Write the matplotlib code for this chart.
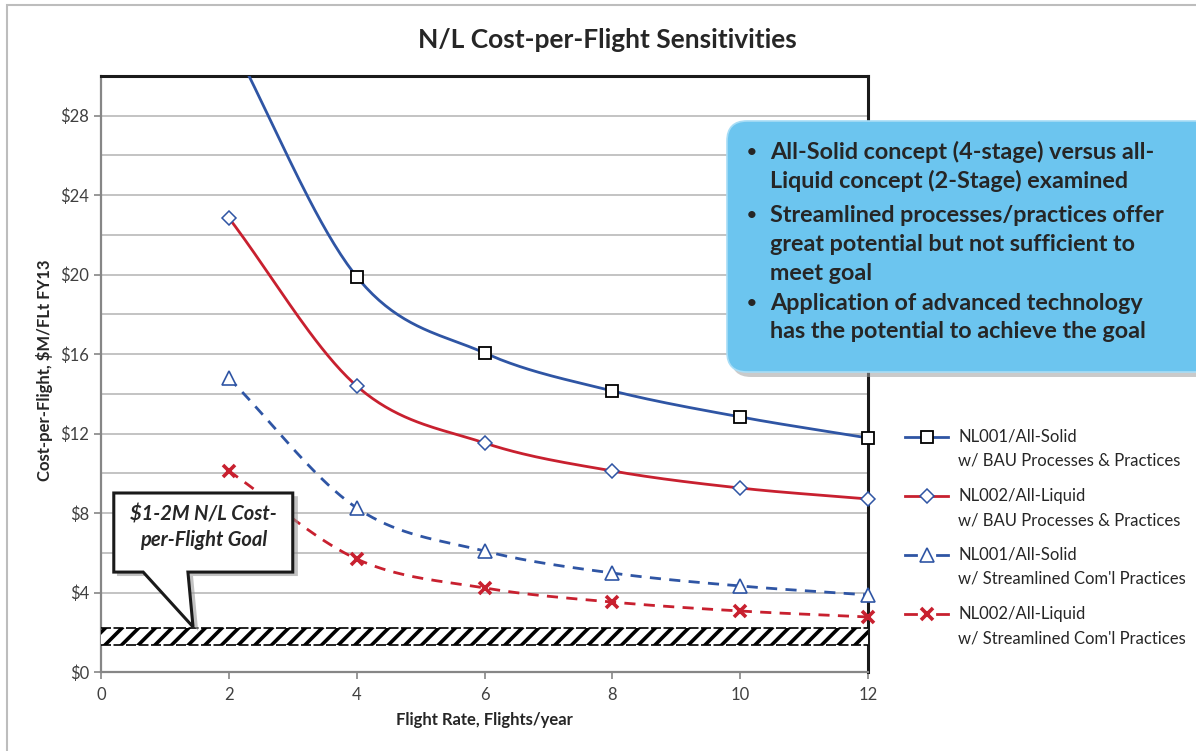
import numpy as np
import matplotlib
matplotlib.use('Agg')
import matplotlib.pyplot as plt
from matplotlib.patches import Polygon, FancyBboxPatch, Rectangle
from matplotlib.lines import Line2D

# ---------------- data ----------------
flight_rate = [2, 4, 6, 8, 10, 12]
solid_bau = [32.0, 19.9, 16.06, 14.15, 12.84, 11.78]
liquid_bau = [22.86, 14.4, 11.53, 10.12, 9.26, 8.71]
solid_stream = [14.8, 8.26, 6.09, 4.98, 4.33, 3.88]
liquid_stream = [10.12, 5.69, 4.23, 3.52, 3.07, 2.77]
goal_band = [1.36, 2.2]
ytick_vals = [0, 4, 8, 12, 16, 20, 24, 28]
ytick_labels = ['$0', '$4', '$8', '$12', '$16', '$20', '$24', '$28']
xtick_vals = [0, 2, 4, 6, 8, 10, 12]
legend_labels = [
    ('NL001/All-Solid', 'w/ BAU Processes & Practices'),
    ('NL002/All-Liquid', 'w/ BAU Processes & Practices'),
    ('NL001/All-Solid', "w/ Streamlined Com'l Practices"),
    ('NL002/All-Liquid', "w/ Streamlined Com'l Practices"),
]
box_lines = [
    ('•', 'All-Solid concept (4-stage) versus all-'),
    ('', 'Liquid concept (2-Stage) examined'),
    ('•', 'Streamlined processes/practices offer'),
    ('', 'great potential but not sufficient to'),
    ('', 'meet goal'),
    ('•', 'Application of advanced technology'),
    ('', 'has the potential to achieve the goal'),
]

FONT = ['Lato', 'DejaVu Sans']
plt.rcParams['font.family'] = FONT
plt.rcParams['hatch.linewidth'] = 2.6

BLUE = '#2F55A4'
RED = '#C8202F'
TXT = '#262626'
TICK = '#404040'

W, H = 1196, 751
fig = plt.figure(figsize=(W / 100, H / 100), dpi=100)


def fx(px):
    return px / W


def fy(py):
    return 1 - py / H


ax = fig.add_axes([fx(101), fy(672), fx(868) - fx(101), fy(76) - fy(672)])
ax.set_xlim(0, 12)
ax.set_ylim(0, 30)


def smooth(x, y, n=40):
    P = np.column_stack([x, y]).astype(float)
    P = np.vstack([2 * P[0] - P[1], P, 2 * P[-1] - P[-2]])
    out = []
    t = np.linspace(0, 1, n, endpoint=False)[:, None]
    for i in range(1, len(P) - 2):
        p0, p1, p2, p3 = P[i - 1], P[i], P[i + 1], P[i + 2]
        seg = 0.5 * ((2 * p1) + (-p0 + p2) * t + (2 * p0 - 5 * p1 + 4 * p2 - p3) * t ** 2
                     + (-p0 + 3 * p1 - 3 * p2 + p3) * t ** 3)
        out.append(seg)
    out.append(P[-2][None, :])
    S = np.vstack(out)
    return S[:, 0], S[:, 1]


series = [
    (solid_bau, BLUE, '-', dict(marker='s', ms=9, mfc='white', mec='black', mew=1.3)),
    (liquid_bau, RED, '-', dict(marker='D', ms=7, mfc='white', mec=BLUE, mew=1.1)),
    (solid_stream, BLUE, (0, (4, 3)), dict(marker='^', ms=10, mfc='white', mec=BLUE, mew=1.2)),
    (liquid_stream, RED, (0, (4, 3)), dict(marker='x', ms=9, mfc='none', mec=RED, mew=2.6)),
]

for vals, col, ls, mk in series:
    sx, sy = smooth(flight_rate, vals)
    ax.plot(sx, sy, color=col, lw=2.0, ls=ls, zorder=4)
    idx = [i for i, v in enumerate(vals) if v <= 30]
    ax.plot(flight_rate, vals, ls='none', markevery=idx, clip_on=False, zorder=5, **mk)

# goal band
ax.fill_between([0, 12], goal_band[0], goal_band[1], facecolor='white',
                edgecolor='black', hatch='//', lw=0, zorder=3)
ax.plot([0, 12], [goal_band[1]] * 2, color='black', lw=1.2, ls=(0, (6, 1.5)), zorder=3)
ax.plot([0, 12], [goal_band[0]] * 2, color='black', lw=1.2, ls=(0, (6, 1.5)), zorder=3)

# grid / ticks
ax.set_yticks(ytick_vals)
ax.set_yticklabels(ytick_labels)
ax.set_yticks(np.arange(2, 30, 2), minor=True)
ax.set_xticks(xtick_vals)
ax.yaxis.grid(True, which='both', color='#BEBEBE', lw=1.3)
ax.set_axisbelow(True)
ax.tick_params(axis='y', which='minor', length=0)
ax.tick_params(axis='both', which='major', direction='out', length=5, color='#868686',
               labelsize=12, labelcolor=TICK, width=1.2)
ax.tick_params(axis='x', pad=6)
for s in ['top', 'right']:
    ax.spines[s].set_color('#1A1A1A')
    ax.spines[s].set_linewidth(2.2)
for s in ['left', 'bottom']:
    ax.spines[s].set_color('#868686')
    ax.spines[s].set_linewidth(1.6)

# callout
shadow = [(0.25, 8.85), (3.08, 8.85), (3.08, 4.83), (1.44, 4.83), (1.52, 2.07),
          (0.74, 4.83), (0.25, 4.83)]
ax.add_patch(Polygon(shadow, closed=True, facecolor='#9A9A9A', edgecolor='none',
                     alpha=0.6, zorder=6))
callout = [(0.2, 9.01), (3.0, 9.01), (3.0, 5.03), (1.36, 5.03), (1.44, 2.27),
           (0.66, 5.03), (0.2, 5.03)]
ax.add_patch(Polygon(callout, closed=True, facecolor='white', edgecolor='#1A1A1A',
                     lw=2.2, zorder=7, joinstyle='miter'))
ax.text(1.6, 7.3, '\\$1-2M N/L Cost-\nper-Flight Goal', ha='center', va='center',
        fontsize=14.5, fontweight='bold', fontstyle='italic', color=TXT,
        linespacing=1.35, zorder=8)

# title and labels
fig.text(fx(607), fy(40), 'N/L Cost-per-Flight Sensitivities', ha='center', va='center',
         fontsize=19, fontweight='bold', color=TXT)
fig.text(fx(484), fy(720), 'Flight Rate, Flights/year', ha='center', va='center',
         fontsize=12, fontweight='bold', color=TXT)
fig.text(fx(45), fy(370), 'Cost-per-Flight, \\$M/FLt FY13', ha='center', va='center',
         rotation=90, fontsize=12, fontweight='bold', color=TXT)

# figure border
fig.add_artist(Rectangle((fx(7), -0.1), 1.2, fy(5) + 0.1, transform=fig.transFigure,
                         fill=False, edgecolor='#BDBDBD', lw=1.5, clip_on=False))

# blue text box
x0, x1 = 727 / 100, 1215 / 100
y0, y1 = (H - 372) / 100, (H - 121) / 100
fig.add_artist(FancyBboxPatch((x0 + 0.04, y0 - 0.05), x1 - x0, y1 - y0,
                              boxstyle='round,pad=0,rounding_size=0.2',
                              transform=fig.dpi_scale_trans, facecolor='#A0A0A0',
                              edgecolor='none', alpha=0.55))
fig.add_artist(FancyBboxPatch((x0, y0), x1 - x0, y1 - y0,
                              boxstyle='round,pad=0,rounding_size=0.2',
                              transform=fig.dpi_scale_trans, facecolor='#6CC5EF',
                              edgecolor='#A8DDF6', lw=1.2))
line_y = [152, 181, 215, 244, 273, 303, 332]
for (b, txt), py in zip(box_lines, line_y):
    if b:
        fig.text(fx(752), fy(py), b, ha='center', va='center', fontsize=12,
                 fontweight='bold', color=TXT)
    fig.text(fx(770), fy(py), txt, ha='left', va='center', fontsize=16.8,
             fontweight='bold', color=TXT)

# legend (manual)
leg_y = [437, 496, 555, 614]
for (vals, col, ls, mk), (l1, l2), py in zip(series, legend_labels, leg_y):
    yy = fy(py)
    if ls == '-':
        fig.add_artist(Line2D([fx(905), fx(948)], [yy, yy], color=col, lw=2.0,
                              transform=fig.transFigure))
    else:
        for a, b in [(905, 916), (937, 948)]:
            fig.add_artist(Line2D([fx(a), fx(b)], [yy, yy], color=col, lw=2.0,
                                  transform=fig.transFigure))
    fig.add_artist(Line2D([fx(926.5)], [yy], ls='none', transform=fig.transFigure, **mk))
    fig.text(fx(958), yy, l1, ha='left', va='center', fontsize=12, color=TXT)
    fig.text(fx(958), fy(py + 24), l2, ha='left', va='center', fontsize=12, color=TXT)

fig.savefig('out.png', dpi=100)
